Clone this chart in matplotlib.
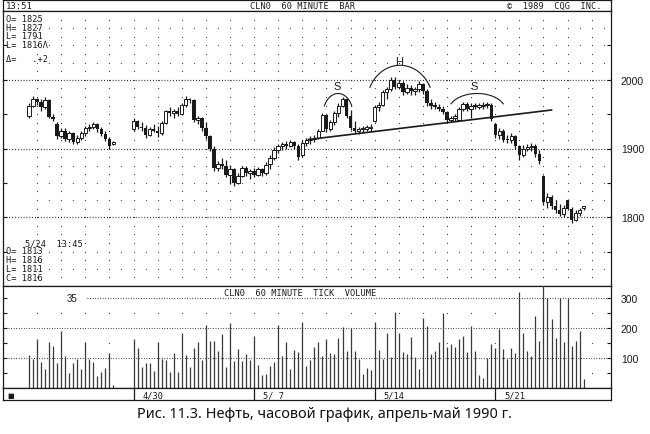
import numpy as np
import matplotlib.pyplot as plt

nan = np.nan

# hourly bars, crude oil CLN0, 4/24 - 5/24 1990 (slot = one hour bar)
opens = [
    1948, 1962, 1972, 1968, 1960, 1970, 1946, 1935, 1918, 1926, 1914,
    1922, 1910, 1916, 1922, 1930, 1932, 1935, 1928, 1921, 1914, 1906,
    nan, nan, nan, nan,
    1928, 1940, 1932, 1930, 1920, 1929, 1926, 1922, 1937, 1954,
    1952, 1955, 1950, 1963, 1972, 1970, 1941, 1944, 1930, 1918,
    1900, 1872, 1878, 1874, 1862, 1870, 1850, 1860, 1872, 1864,
    1867, 1862, 1870, 1864, 1878, 1886, 1898, 1903, 1906, 1904,
    1909, 1903, 1890, 1908, 1912, 1914, 1915, 1926, 1949, 1928,
    1938, 1951, 1962, 1972, 1948, 1930, 1926, 1928, 1929, 1930,
    1940, 1960, 1964, 1982, 1986, 2000, 1990, 1996, 1982, 1988,
    1984, 1986, 1994, 1983, 1966, 1962, 1961, 1958, 1953, 1941,
    1945, 1942, 1957, 1965, 1958, 1962, 1961, 1962, 1963, 1964,
    1935, 1920, 1925, 1913, 1912, 1918, 1904, 1890, 1900, 1902,
    1904, 1892, 1860, 1822, 1830, 1816, 1810, 1805, 1825, 1812,
    1796, 1806, 1813,
]
highs = [
    1966, 1976, 1974, 1972, 1975, 1972, 1950, 1938, 1930, 1930, 1925,
    1924, 1920, 1926, 1933, 1936, 1939, 1937, 1931, 1926, 1917, 1911,
    nan, nan, nan, nan,
    1944, 1942, 1938, 1934, 1932, 1935, 1933, 1940, 1956, 1960,
    1958, 1960, 1966, 1976, 1974, 1972, 1948, 1946, 1938, 1920,
    1904, 1882, 1886, 1884, 1876, 1872, 1864, 1875, 1874, 1870,
    1872, 1873, 1872, 1880, 1890, 1902, 1906, 1910, 1911, 1912,
    1911, 1906, 1913, 1916, 1918, 1919, 1929, 1952, 1950, 1942,
    1954, 1966, 1975, 1974, 1956, 1940, 1932, 1933, 1934, 1936,
    1964, 1968, 1985, 1990, 2004, 2004, 2000, 1998, 1994, 1992,
    1990, 1998, 1996, 1986, 1972, 1968, 1965, 1962, 1955, 1948,
    1950, 1960, 1968, 1968, 1966, 1966, 1966, 1967, 1968, 1966,
    1937, 1930, 1928, 1920, 1922, 1920, 1905, 1905, 1906, 1908,
    1906, 1898, 1862, 1835, 1832, 1825, 1820, 1818, 1827, 1815,
    1810, 1814, 1816,
]
lows = [
    1944, 1960, 1964, 1954, 1958, 1944, 1940, 1914, 1915, 1911, 1909,
    1907, 1906, 1912, 1918, 1926, 1928, 1924, 1918, 1911, 1899, 1905,
    nan, nan, nan, nan,
    1926, 1928, 1925, 1915, 1918, 1924, 1917, 1920, 1935, 1948,
    1945, 1947, 1949, 1960, 1966, 1938, 1935, 1926, 1914, 1896,
    1868, 1868, 1870, 1858, 1849, 1845, 1848, 1858, 1860, 1856,
    1858, 1860, 1860, 1862, 1870, 1884, 1894, 1898, 1900, 1902,
    1900, 1884, 1888, 1904, 1907, 1909, 1914, 1925, 1924, 1925,
    1934, 1946, 1960, 1944, 1927, 1922, 1921, 1924, 1925, 1926,
    1938, 1954, 1962, 1972, 1984, 1986, 1986, 1978, 1980, 1978,
    1978, 1982, 1980, 1962, 1958, 1958, 1954, 1950, 1938, 1938,
    1940, 1940, 1954, 1955, 1944, 1957, 1958, 1958, 1959, 1940,
    1915, 1914, 1910, 1908, 1908, 1900, 1884, 1888, 1896, 1897,
    1888, 1878, 1818, 1814, 1812, 1806, 1802, 1800, 1810, 1791,
    1794, 1802, 1811,
]
closes = [
    1962, 1972, 1968, 1960, 1970, 1946, 1943, 1918, 1926, 1914, 1922,
    1910, 1916, 1922, 1930, 1932, 1935, 1928, 1921, 1914, 1904, 1909,
    nan, nan, nan, nan,
    1940, 1932, 1930, 1920, 1929, 1926, 1922, 1937, 1954, 1952,
    1955, 1950, 1963, 1972, 1970, 1941, 1944, 1930, 1918, 1900,
    1872, 1878, 1874, 1862, 1870, 1850, 1860, 1872, 1864, 1867,
    1862, 1870, 1864, 1876, 1886, 1898, 1903, 1906, 1904, 1909,
    1903, 1888, 1908, 1912, 1914, 1915, 1926, 1949, 1928, 1938,
    1951, 1962, 1972, 1948, 1930, 1926, 1928, 1929, 1930, 1932,
    1960, 1964, 1982, 1986, 2000, 1990, 1996, 1982, 1988, 1984,
    1986, 1994, 1983, 1966, 1962, 1961, 1958, 1953, 1941, 1945,
    1948, 1957, 1965, 1958, 1962, 1961, 1962, 1963, 1964, 1943,
    1920, 1925, 1913, 1912, 1918, 1904, 1890, 1900, 1902, 1904,
    1892, 1882, 1822, 1830, 1816, 1810, 1805, 1814, 1812, 1796,
    1806, 1810, 1816,
]
volume = [
    112, 98, 166, 88, 64, 156, 142, 85, 190, 108, 51, 85, 98, 64, 153,
    98, 88, 41, 54, 68, 119, 10,
    0, 0, 0, 0,
    166, 136, 71, 85, 85, 58, 153, 98, 95, 54, 119, 54, 183, 112, 71,
    136, 156, 95, 210, 159, 159, 125, 180, 71, 217, 92, 132, 92, 115,
    95, 176, 78, 44, 47, 75, 88, 210, 108, 153, 64, 129, 122, 220, 75,
    95, 139, 153, 108, 166,
    119, 116, 169, 203, 124, 200, 124, 98, 49, 68, 60, 220, 128, 98,
    186, 105, 254, 183, 121, 113, 172, 104, 64, 234, 209, 113, 124, 155,
    251, 138, 147, 138, 164, 175, 121, 209, 124, 45, 34, 102, 147, 136,
    198, 132, 98, 133, 119, 322, 186, 124, 107, 240, 158, 345, 300, 232,
    169, 300, 153, 300, 141, 158, 190, 32,
]
week_starts = [26, 56, 86, 116]
week_labels = ['4/30', '5/ 7', '5/14', '5/21']

# head & shoulders annotation
neck_x = [69.5, 130.0]
neck_y = [1913, 1956]
arcs = [  # centre slot, half width, end price, top price
    (76.9, 3.4, 1962, 1980),
    (92.3, 7.5, 1989, 2021),
    (111.5, 6.5, 1965, 1980),
]
hs_labels = [(76.7, 1991, 'S'), (92.0, 2027, 'H'), (110.7, 1991, 'S')]

W, H = 650, 435
fig = plt.figure(figsize=(6.5, 4.35), dpi=100)
fig.patch.set_facecolor('white')


def rect(x0, y0, x1, y1):
    return [x0 / W, 1 - y1 / H, (x1 - x0) / W, (y1 - y0) / H]


mono = 'DejaVu Sans Mono'
ink = '#1a1a1a'
xlim = (-6.47, 144.8)

ax_t = fig.add_axes(rect(3, 0.5, 611, 12))
ax_p = fig.add_axes(rect(3, 12, 611, 287))
ax_v = fig.add_axes(rect(3, 287, 611, 389.3))
ax_d = fig.add_axes(rect(3, 389.3, 611, 401))
for a in (ax_t, ax_p, ax_v, ax_d):
    a.set_xlim(*xlim)
    for s in a.spines.values():
        s.set_linewidth(0.9)
        s.set_color(ink)
for a in (ax_t, ax_d):
    a.set_ylim(0, 1)
    a.set_xticks([])
    a.set_yticks([])

# title bar
ax_t.text(0.004, 0.45, '13:51', transform=ax_t.transAxes, fontsize=6.5,
          family=mono, va='center', ha='left', color=ink)
ax_t.text(0.493, 0.45, 'CLN0  60 MINUTE  BAR', transform=ax_t.transAxes,
          fontsize=6.2, family=mono, va='center', ha='center', color=ink)
ax_t.text(0.985, 0.45, '\u00a9  1989  CQG  INC.', transform=ax_t.transAxes,
          fontsize=6.2, family=mono, va='center', ha='right', color=ink)

# price panel
o = np.array(opens, float)
h = np.array(highs, float)
l = np.array(lows, float)
c = np.array(closes, float)
x = np.arange(len(o))
ok = ~np.isnan(o)

ax_p.set_ylim(1700, 2100)
day_cols = np.arange(2, 141, 6)
half_cols = day_cols + 3
lv1 = np.arange(1712.5, 2100, 12.5)
lv2 = np.array([1725, 1750, 1825, 1850, 1875, 2025, 2050, 2075])
ax_p.plot(np.repeat(day_cols, len(lv1)), np.tile(lv1, len(day_cols)),
          ls='none', marker='s', ms=0.8, mew=0, color='#444444', zorder=1)
ax_p.plot(np.repeat(half_cols, len(lv2)), np.tile(lv2, len(half_cols)),
          ls='none', marker='s', ms=0.8, mew=0, color='#555555', zorder=1)
for lvl in (1800, 1900, 2000):
    ax_p.axhline(lvl, color=ink, lw=0.9, ls=(0, (0.7, 1.6)), zorder=1)

ax_p.vlines(x[ok], l[ok], h[ok], color=ink, lw=0.9, zorder=3)
body = np.maximum(np.abs(c - o), 2.0)
up = ok & (c >= o)
dn = ok & (c < o)
ax_p.bar(x[up], body[up], bottom=o[up], width=0.85, facecolor='white',
         edgecolor=ink, linewidth=0.7, zorder=4)
ax_p.bar(x[dn], body[dn], bottom=c[dn], width=0.85, color=ink, zorder=4)

ax_p.plot(neck_x, neck_y, color=ink, lw=1.2, zorder=5)
t = np.radians(np.linspace(25, 155, 60))
for xc, hw, yend, ytop in arcs:
    b = (ytop - yend) / (1 - np.sin(np.radians(25)))
    a = hw / np.cos(np.radians(25))
    ax_p.plot(xc + a * np.cos(t), ytop - b + b * np.sin(t), color=ink, lw=0.8,
              zorder=5)
for xs, ys, s in hs_labels:
    ax_p.text(xs, ys, s, fontsize=8, family='Liberation Sans', ha='center',
              va='center', color=ink)

ax_p.yaxis.tick_right()
ax_p.set_yticks(np.arange(1750, 2100, 50))
ax_p.set_yticklabels(['' if v % 100 else str(v) for v in range(1750, 2100, 50)])
ax_p.tick_params(axis='y', left=True, right=True, direction='in', length=3,
                 width=0.8, labelsize=7.5, pad=7, colors=ink)
ax_p.set_xticks([])
for lab in ax_p.get_yticklabels():
    lab.set_family('Liberation Sans')

info_top = ['O= 1825', 'H= 1827', 'L= 1791', 'L= 1816\u039b']
for i, s in enumerate(info_top):
    fig.text(6 / W, 1 - (19.6 + 8.5 * i) / H, s, fontsize=6.2, family=mono,
             va='center', color=ink)
fig.text(6 / W, 1 - 60 / H, '\u0394=   .+2', fontsize=6.2, family=mono,
         va='center', color=ink)
fig.text(25 / W, 1 - 244 / H, '5/24  13:45', fontsize=6.2, family=mono,
         va='center', color=ink)
info_bot = ['O= 1813', 'H= 1816', 'L= 1811', 'C= 1816']
for i, s in enumerate(info_bot):
    fig.text(6 / W, 1 - (252 + 8.8 * i) / H, s, fontsize=6.2, family=mono,
             va='center', color=ink)

# volume panel
ax_v.set_ylim(0, 341)
lv3 = np.array([50, 150, 250])
ax_v.plot(np.repeat(day_cols, 3), np.tile(lv3, len(day_cols)), ls='none',
          marker='s', ms=0.8, mew=0, color='#444444', zorder=1)
for lvl in (100, 200):
    ax_v.axhline(lvl, color=ink, lw=0.8, ls=(0, (0.7, 1.6)), zorder=1)
ax_v.hlines(300, 14.4, xlim[1], color=ink, lw=0.8, ls=(0, (0.7, 1.6)), zorder=1)
v = np.array(volume, float)
ax_v.vlines(x[v > 0], 0, v[v > 0], color='#3a3a3a', lw=0.9, zorder=3)
ax_v.yaxis.tick_right()
ax_v.set_yticks(np.arange(50, 341, 50))
ax_v.set_yticklabels(['' if k % 100 else str(k) for k in range(50, 341, 50)])
ax_v.tick_params(axis='y', left=True, right=True, direction='in', length=3,
                 width=0.8, labelsize=7.5, pad=7, colors=ink)
ax_v.set_xticks([])
for lab in ax_v.get_yticklabels():
    lab.set_family('Liberation Sans')
ax_v.text(10.6, 300, '35', fontsize=7, family='Liberation Sans', ha='center',
          va='center', color=ink)
ax_v.text(67.5, 320, 'CLN0  60 MINUTE  TICK  VOLUME', fontsize=6.2,
          family=mono, ha='center', va='center', color=ink)

# date bar
ax_d.vlines(week_starts, 0, 1, color=ink, lw=0.9)
for ws, s in zip(week_starts, week_labels):
    ax_d.text(ws + 2.2, 0.45, s, fontsize=6.2, family=mono, va='center',
              color=ink)
ax_d.text(0.012, 0.45, '\u25a0', transform=ax_d.transAxes, fontsize=5,
          va='center', ha='center', color=ink)

# caption
cap_y = 1 - 415 / H
t1 = fig.text(137 / W, cap_y, 'Рис. 11.3.', fontsize=10.4, family='Noto Sans',
              weight='bold', va='center', color='#111111')
r = fig.canvas.get_renderer()
bb = t1.get_window_extent(r)
fig.text(bb.x1 / W, cap_y, ' Нефть, часовой график, апрель-май 1990 г.',
         fontsize=10.4, family='Noto Sans', va='center', color='#111111')

fig.savefig('out.png', dpi=100)
